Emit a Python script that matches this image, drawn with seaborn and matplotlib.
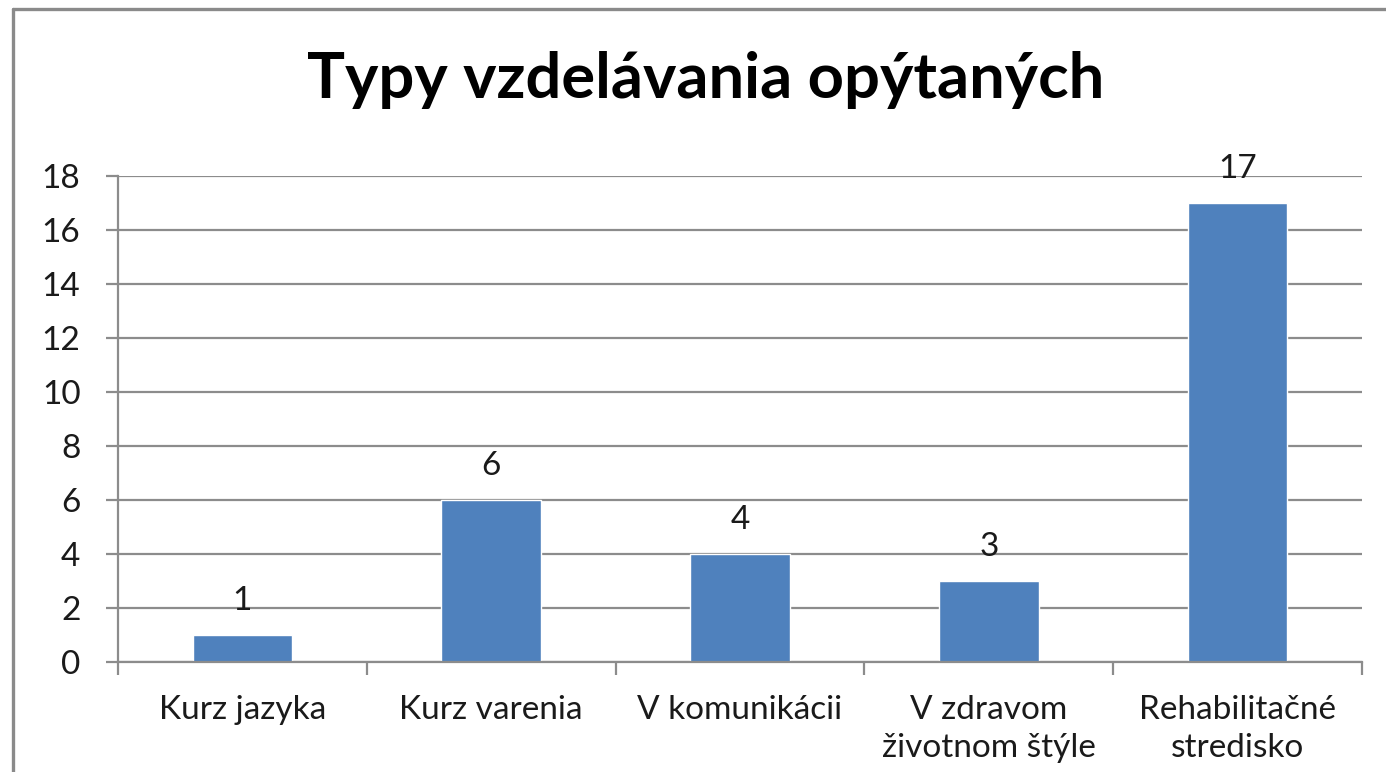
import matplotlib
matplotlib.use("Agg")
import matplotlib.pyplot as plt
from matplotlib.lines import Line2D
from matplotlib.ticker import FixedLocator
import seaborn as sns
import pandas as pd

sns.set_theme(style="white")
plt.rcParams['font.family'] = ['Lato', 'DejaVu Sans']

# data
categories = ["Kurz jazyka", "Kurz varenia", "V komunikácii",
              "V zdravom\nživotnom štýle", "Rehabilitačné\nstredisko"]
counts = [1, 6, 4, 3, 17]
y_ticks = [0, 2, 4, 6, 8, 10, 12, 14, 16, 18]
title = "Typy vzdelávania opýtaných"

df = pd.DataFrame({"typ": categories, "pocet": counts})

W, H = 1386, 772
fig = plt.figure(figsize=(W / 100, H / 100), dpi=100)
ax = fig.add_axes([118 / W, (H - 662) / H, (1362 - 118) / W, (662 - 176) / H])

sns.barplot(data=df, x="typ", y="pocet", color="#4F81BD", width=0.4,
            saturation=1, ax=ax)

grid_c = "#8c8c8c"
txt_c = "#1a1a1a"
ax.set_ylim(0, 18)
ax.set_xlim(-0.5, len(categories) - 0.5)
ax.set_yticks(y_ticks)
ax.yaxis.grid(True, color=grid_c, linewidth=1.6)
ax.set_axisbelow(True)
ax.set_xlabel("")
ax.set_ylabel("")

for s in ["top", "right"]:
    ax.spines[s].set_visible(False)
for s in ["left", "bottom"]:
    ax.spines[s].set_color(grid_c)
    ax.spines[s].set_linewidth(1.6)

ax.tick_params(axis="y", which="major", length=9, width=1.6, color=grid_c,
               labelsize=24, pad=18, labelcolor=txt_c, left=True)
ax.tick_params(axis="x", which="major", length=0, labelsize=24, pad=24,
               labelcolor=txt_c)
ax.xaxis.set_minor_locator(FixedLocator([i - 0.5 for i in range(len(categories) + 1)]))
ax.tick_params(axis="x", which="minor", length=9, width=1.6, color=grid_c,
               bottom=True)
for lbl in ax.get_xticklabels():
    lbl.set_linespacing(1.3)

for i, v in enumerate(counts):
    ax.annotate(str(v), (i, v), xytext=(0, 14), textcoords="offset points",
                ha="center", va="bottom", fontsize=24, color=txt_c)

fig.text(706 / W, 1 - 80 / H, title, ha="center", va="center",
         fontsize=45.5, fontweight="bold", color="#000000")

# outer chart border (cut off on the right and bottom)
border = "#8a8a8a"
fig.add_artist(Line2D([13 / W, 13 / W], [0, 1 - 9 / H], transform=fig.transFigure,
                      color=border, linewidth=2.4))
fig.add_artist(Line2D([13 / W, 1], [1 - 9 / H, 1 - 9 / H], transform=fig.transFigure,
                      color=border, linewidth=2.4))

fig.savefig("out.png", dpi=100, facecolor="white")
